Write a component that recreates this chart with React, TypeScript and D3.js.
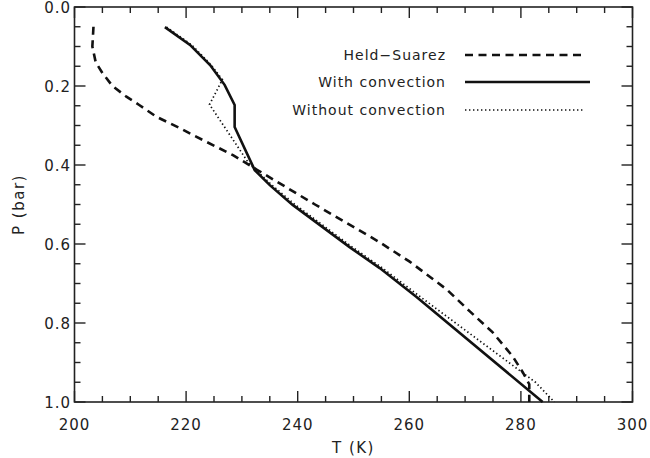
import React from "react";
import * as d3 from "d3";

const hsP = [0.05, 0.1, 0.14, 0.167, 0.2, 0.227, 0.248, 0.278, 0.306, 0.324, 0.375, 0.412, 0.5, 0.594, 0.644, 0.715, 0.77, 0.823, 0.884, 0.924, 0.955, 1.0];
const hsT = [203.4, 203.2, 203.8, 205.0, 206.8, 209.3, 211.6, 214.7, 218.8, 221.2, 228.4, 232.7, 243.1, 254.5, 260.0, 266.7, 270.8, 274.9, 278.5, 280.3, 281.5, 281.5];

const convP = [0.051, 0.096, 0.147, 0.197, 0.248, 0.304, 0.413, 0.451, 0.501, 0.608, 0.661, 0.734, 1.0];
const convT = [216.2, 220.7, 224.3, 226.9, 228.7, 228.7, 232.3, 235.0, 239.1, 249.3, 254.7, 261.3, 283.9];

const noConvP = [0.051, 0.096, 0.147, 0.184, 0.247, 0.395, 0.45, 0.5, 0.608, 0.661, 0.734, 0.95, 1.0];
const noConvT = [216.5, 221.0, 224.5, 226.5, 224.2, 231.2, 235.3, 239.5, 249.8, 255.2, 262.0, 282.6, 286.0];

const legendLabels = ["Held\u2212Suarez", "With convection", "Without convection"];
const xMajorTicks = [200, 220, 240, 260, 280, 300];
const yMajorTicks = [0.0, 0.2, 0.4, 0.6, 0.8, 1.0];

const W = 650, H = 458;
const L = 74.5, R = 632.5, T = 7, B = 402;
const font = "'DejaVu Sans', sans-serif";

export default function App() {
  const x = d3.scaleLinear().domain([200, 300]).range([L, R]);
  const y = d3.scaleLinear().domain([0, 1]).range([T, B]);

  const mk = (ps: number[], ts: number[]) =>
    d3.line<number>().x((_, i) => x(ts[i])).y((p) => y(p)).curve(d3.curveLinear)(ps) || "";

  const styles = [
    { d: mk(hsP, hsT), w: 2.6, dash: "8,5.5" },
    { d: mk(convP, convT), w: 2.6, dash: "" },
    { d: mk(noConvP, noConvT), w: 1.7, dash: "1.4,2.6" },
  ];

  const xMinor = d3.range(200, 300.01, 5);
  const yMinor = d3.range(0, 1.0001, 0.05);

  const legendRows = [55, 82, 110];

  return (
    <svg width={W} height={H} style={{ position: "absolute", left: 0, top: 0, background: "#fff" }}>
      <rect x={0} y={0} width={W} height={H} fill="#fff" />
      <g stroke="#222" strokeWidth={1.4}>
        {xMinor.map((v) => {
          const major = xMajorTicks.some((m) => Math.abs(m - v) < 1e-6);
          const len = major ? 11 : 6;
          return (
            <g key={"xt" + v}>
              <line x1={x(v)} x2={x(v)} y1={B} y2={B - len} />
              <line x1={x(v)} x2={x(v)} y1={T} y2={T + len} />
            </g>
          );
        })}
        {yMinor.map((v) => {
          const major = yMajorTicks.some((m) => Math.abs(m - v) < 1e-6);
          const len = major ? 11 : 6;
          return (
            <g key={"yt" + v}>
              <line x1={L} x2={L + len} y1={y(v)} y2={y(v)} />
              <line x1={R} x2={R - len} y1={y(v)} y2={y(v)} />
            </g>
          );
        })}
      </g>
      <rect x={L} y={T} width={R - L} height={B - T} fill="none" stroke="#222" strokeWidth={1.6} />
      {styles.map((s, i) => (
        <path key={i} d={s.d} fill="none" stroke="#111" strokeWidth={s.w} strokeDasharray={s.dash || undefined} />
      ))}
      <g fontFamily={font} fontSize={15} fill="#222">
        {xMajorTicks.map((v) => (
          <text key={"xl" + v} x={x(v)} y={430} textAnchor="middle" letterSpacing={1}>{v.toFixed(0)}</text>
        ))}
        {yMajorTicks.map((v) => (
          <text key={"yl" + v} x={71} y={y(v) + 5.5} textAnchor="end" letterSpacing={1}>{v.toFixed(1)}</text>
        ))}
        <text x={(L + R) / 2} y={453} textAnchor="middle" letterSpacing={1.5}>T (K)</text>
        <text transform={`translate(24, ${(T + B) / 2}) rotate(-90)`} textAnchor="middle" letterSpacing={1.5}>P (bar)</text>
      </g>
      <g fontFamily={font} fontSize={14} fill="#222">
        {legendLabels.map((lab, i) => (
          <g key={lab}>
            <text x={446} y={legendRows[i] + 5} textAnchor="end" letterSpacing={1}>{lab}</text>
            <line x1={465} x2={i === 1 ? 590 : 585} y1={legendRows[i]} y2={legendRows[i]}
              stroke="#111" strokeWidth={styles[i].w} strokeDasharray={styles[i].dash || undefined} />
          </g>
        ))}
      </g>
    </svg>
  );
}
